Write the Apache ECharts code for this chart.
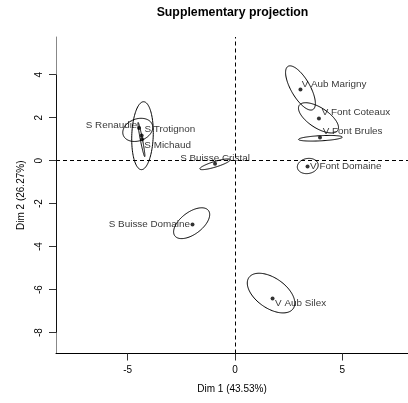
<!DOCTYPE html>
<html><head><meta charset="utf-8">
<script src="https://cdn.jsdelivr.net/npm/echarts@6/dist/echarts.min.js"></script>
<style>html,body{margin:0;padding:0;background:#fff}#c{width:408px;height:403px}</style>
</head><body><div id="c"></div>
<script>
// ---- data ----
const names = ['V Aub Marigny','V Font Coteaux','V Font Brules','V Font Domaine','V Aub Silex',
               'S Buisse Domaine','S Buisse Cristal','S Renaudie','S Trotignon','S Michaud'];
const dim1 = [3.05, 3.91, 3.96, 3.38, 1.75, -1.98, -0.93, -4.47, -4.35, -4.33];
const dim2 = [3.31, 1.96, 1.08, -0.27, -6.41, -2.97, -0.15, 1.52, 1.17, 0.99];
// confidence ellipses: centre, semi-axes (data units), orientation (deg)
const ellCx = [3.05, 3.89, 3.98, 3.39, 1.68, -2.02, -0.93, -4.53, -4.31, -4.36];
const ellCy = [3.38, 1.99, 1.04, -0.25, -6.16, -2.91, -0.17, 1.43, 1.16, 0.98];
const ellA  = [1.16, 1.07, 1.02, 0.49, 1.26, 0.98, 0.74, 0.72, 1.58, 0.81];
const ellB  = [0.44, 0.47, 0.12, 0.35, 0.70, 0.51, 0.13, 0.51, 0.50, 0.05];
const ellAngle = [-60, -33, 3, 10, -35, 37, 17, 20, 88, 101];
const xTicks = [-5, 0, 5];
const yTicks = [-8, -6, -4, -2, 0, 2, 4];
const xMin = -8.34, xMax = 8.06, yMin = -8.97, yMax = 5.75;
const titleText = 'Supplementary projection';
const xName = 'Dim 1 (43.53%)';
const yName = 'Dim 2 (26.27%)';

// ---- label placement (style) : [align, dx px, dy px] ----
const labelPlace = [['left',1.2,-5.2],['left',2.7,-5.8],['left',2.7,-5.8],['left',2.5,0],['left',2.5,4.8],
                    ['right',-2.5,0],['center',0,-5.7],['right',-1.7,-3],['left',2.8,-6.2],['left',2.3,6.2]];

const FONT = 'Liberation Sans, Arial, Helvetica, sans-serif';
const SYM = 4;
const chart = echarts.init(document.getElementById('c'), null, {renderer:'canvas'});

const pointData = names.map((n,i)=>({
  value:[dim1[i], dim2[i]], name:n,
  label:{show:true, formatter:n, position:[SYM/2+labelPlace[i][1], SYM/2+labelPlace[i][2]],
         align:labelPlace[i][0], verticalAlign:'middle', color:'#000', fontSize:9.9, fontFamily:FONT}
}));
const ellData = names.map((n,i)=>[ellCx[i], ellCy[i], ellA[i], ellB[i], ellAngle[i]]);

chart.setOption({
  animation:false,
  backgroundColor:'#fff',
  graphic:[{type:'text', x:232.5, y:12.5, style:{text:titleText, fontSize:12.3, fontWeight:'bold',
            fontFamily:FONT, fill:'#000', textAlign:'center', textVerticalAlign:'middle'}}],
  grid:{left:56, right:0, top:37, bottom:49.5, containLabel:false},
  xAxis:{type:'value', min:xMin, max:xMax, name:xName, nameLocation:'middle', nameGap:31,
    nameTextStyle:{fontSize:10, fontFamily:FONT, color:'#000'},
    axisLine:{show:true, onZero:false, lineStyle:{color:'#000', width:1}},
    axisTick:{show:true, inside:false, length:7, customValues:xTicks, lineStyle:{color:'#333'}},
    axisLabel:{show:true, customValues:xTicks, margin:12, fontSize:10, fontFamily:FONT, color:'#000'},
    splitLine:{show:false}},
  yAxis:{type:'value', min:yMin, max:yMax, name:yName, nameLocation:'middle', nameGap:27, nameRotate:90,
    nameTextStyle:{fontSize:10, fontFamily:FONT, color:'#000'},
    axisLine:{show:true, onZero:false, lineStyle:{color:'#888', width:1}},
    axisTick:{show:true, inside:false, length:7, customValues:yTicks, lineStyle:{color:'#333'}},
    axisLabel:{show:true, customValues:yTicks, rotate:90, margin:12, fontSize:10, fontFamily:FONT, color:'#000'},
    splitLine:{show:false}},
  series:[
    {type:'custom', coordinateSystem:'cartesian2d', data:ellData, silent:true, z:3,
     encode:{x:0, y:1},
     renderItem:function(params, api){
       const cx=api.value(0), cy=api.value(1), a=api.value(2), b=api.value(3), th=api.value(4)*Math.PI/180;
       const pts=[];
       for(let k=0;k<=120;k++){
         const t=2*Math.PI*k/120;
         const lx=a*Math.cos(t), ly=b*Math.sin(t);
         pts.push(api.coord([cx+lx*Math.cos(th)-ly*Math.sin(th), cy+lx*Math.sin(th)+ly*Math.cos(th)]));
       }
       return {type:'polyline', shape:{points:pts}, style:{stroke:'#000', lineWidth:1, fill:null}};
     }},
    {type:'scatter', data:pointData, symbol:'circle', symbolSize:SYM, itemStyle:{color:'#000'}, z:4,
     markLine:{silent:true, symbol:['none','none'], label:{show:false}, z:1,
       data:[
         [{coord:[0,yMin], lineStyle:{type:[4,3], color:'#000', width:1}},{coord:[0,yMax]}],
         [{coord:[xMin,0], lineStyle:{type:[4,3], color:'#000', width:1}},{coord:[xMax,0]}],
         [{coord:[xMin,yTicks[yTicks.length-1]], lineStyle:{type:'solid', color:'#111', width:1}},{coord:[xMin,yTicks[0]]}]
       ]}}
  ]
});
</script></body></html>
